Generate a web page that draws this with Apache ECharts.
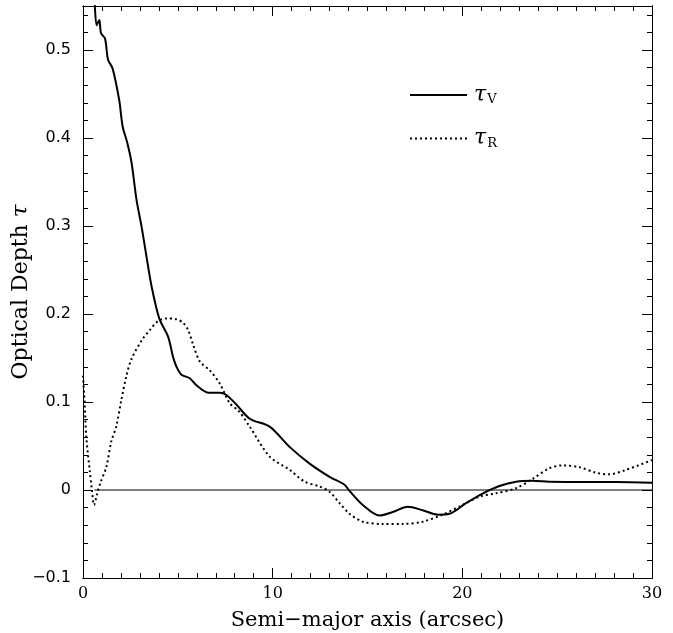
<!DOCTYPE html>
<html><head><meta charset="utf-8">
<script src="https://cdn.jsdelivr.net/npm/echarts@6/dist/echarts.min.js"></script>
<style>html,body{margin:0;padding:0;background:#fff}#c{width:673px;height:633px}</style>
</head><body><div id="c"></div>
<script>
var tauVx = [0.4, 0.6, 0.72, 0.86, 0.95, 1.16, 1.32, 1.56, 1.91, 2.09, 2.33, 2.56, 2.82, 3.09, 3.35, 3.62, 4.02, 4.49, 4.75, 4.93, 5.19, 5.63, 5.98, 6.6, 7.2, 7.56, 8.09, 8.79, 9.84, 10.89, 11.95, 13.0, 13.79, 14.05, 14.75, 15.63, 16.33, 17.12, 17.91, 18.7, 19.32, 20.19, 21.07, 21.95, 22.83, 23.7, 24.58, 26.33, 28.1, 30];
var tauVy = [0.62, 0.56, 0.528, 0.534, 0.519, 0.513, 0.489, 0.479, 0.443, 0.413, 0.395, 0.372, 0.330, 0.299, 0.265, 0.231, 0.195, 0.174, 0.151, 0.140, 0.131, 0.127, 0.119, 0.1106, 0.1106, 0.108, 0.097, 0.081, 0.072, 0.049, 0.030, 0.015, 0.006, -0.001, -0.017, -0.029, -0.025, -0.019, -0.023, -0.028, -0.027, -0.015, -0.004, 0.0045, 0.0095, 0.0106, 0.0095, 0.009, 0.009, 0.0083];
var tauRx = [0, 0.09, 0.17, 0.35, 0.47, 0.58, 0.75, 0.93, 1.23, 1.49, 1.75, 2.02, 2.28, 2.54, 3.09, 3.53, 3.96, 4.4, 4.93, 5.28, 5.54, 5.81, 6.16, 6.68, 7.21, 7.74, 8.2, 8.79, 9.84, 10.89, 11.68, 12.47, 13.0, 13.53, 14.05, 14.75, 15.81, 16.86, 17.91, 18.96, 20.02, 20.89, 21.77, 22.82, 23.7, 24.58, 25.28, 26.16, 27.04, 27.74, 28.6, 30];
var tauRy = [0.13, 0.098, 0.061, 0.023, 0, -0.017, -0.004, 0.009, 0.026, 0.055, 0.072, 0.102, 0.129, 0.148, 0.170, 0.182, 0.192, 0.195, 0.194, 0.190, 0.182, 0.165, 0.146, 0.136, 0.121, 0.0985, 0.09, 0.072, 0.038, 0.023, 0.0095, 0.004, -0.002, -0.015, -0.027, -0.036, -0.0386, -0.0386, -0.036, -0.028, -0.017, -0.0076, -0.0038, 0.002, 0.0125, 0.0246, 0.028, 0.026, 0.0197, 0.0178, 0.0227, 0.034];
var zeroX = [0.6, 30];
var zeroY = [0, 0];
var xTicks = [0, 10, 20, 30];
var yTicks = [-0.1, 0, 0.1, 0.2, 0.3, 0.4, 0.5];

function pairs(xs, ys){ return xs.map(function(x,i){return [x, ys[i]];}); }

var chart = echarts.init(document.getElementById('c'), null, {renderer:'canvas'});
var X0=0, X1=30, Y0=-0.1, Y1=0.55;
var axLine = {show:true, onZero:false, lineStyle:{color:'#000', width:1}};
function xa(pos, major, labels){
  var a = {type:'value', position:pos, min:X0, max:X1, interval: major?10:1,
    axisLine: axLine, splitLine:{show:false},
    axisTick:{show:true, inside:true, length: major?10:5, lineStyle:{color:'#000',width:1}},
    axisLabel:{show:labels, margin:8, color:'#000', fontFamily:'DejaVu Serif', fontSize:16}};
  if (labels){ a.name='Semi\u2212major axis (arcsec)'; a.nameLocation='middle'; a.nameGap=32;
    a.nameTextStyle={color:'#000', fontFamily:'DejaVu Serif', fontSize:21}; }
  return a;
}
function ya(pos, major, labels){
  var a = {type:'value', position:pos, min:Y0, max:Y1, interval: major?0.1:0.02,
    axisLine: axLine, splitLine:{show:false},
    axisTick:{show:true, inside:true, length: major?10:5, lineStyle:{color:'#000',width:1}},
    axisLabel:{show:labels, margin:12, color:'#000', fontFamily:'DejaVu Sans', fontSize:16, showMaxLabel:false,
      formatter:function(v){ var r=Math.round(v*10)/10; if(r===0) return '0'; return (r<0?'\u2212':'')+Math.abs(r).toFixed(1);} }};
  if (labels){ a.name='{a|Optical Depth }{b|\u03C4}'; a.nameLocation='middle'; a.nameGap=50; a.nameRotate=90;
    a.nameMoveOverlap=false;
    a.nameTextStyle={color:'#000', fontFamily:'DejaVu Serif', fontSize:22,
      rich:{a:{fontFamily:'DejaVu Serif', fontSize:22, color:'#000'}, b:{fontFamily:'DejaVu Serif', fontStyle:'italic', fontSize:23, color:'#000'}}}; }
  return a;
}
chart.setOption({
  animation:false,
  backgroundColor:'#fff',
  grid:{left:83, right:21, top:6, bottom:55, containLabel:false, outerBoundsMode:'none'},
  xAxis:[xa('bottom',true,true), xa('bottom',false,false), xa('top',true,false), xa('top',false,false)],
  yAxis:[ya('left',true,true), ya('left',false,false), ya('right',true,false), ya('right',false,false)],
  legend:{orient:'vertical', left:404, top:79, itemWidth:57, itemHeight:14, itemGap:21,
    data:['V','R'],
    itemStyle:{opacity:0},
    formatter:function(n){ return '{t|\u03C4}{s|'+n+'}'; },
    textStyle:{rich:{
      t:{fontFamily:'DejaVu Serif', fontStyle:'italic', fontSize:22, color:'#000', padding:[0,0,0,2]},
      s:{fontFamily:'DejaVu Serif', fontSize:13, color:'#000', verticalAlign:'bottom', padding:[10,0,0,1]}
    }}},
  series:[
    {name:'V', type:'line', data:pairs(tauVx,tauVy), symbol:'none', smooth:0.3, clip:true,
      lineStyle:{color:'#000', width:2}, itemStyle:{color:'#000'}},
    {name:'R', type:'line', data:pairs(tauRx,tauRy), symbol:'none', smooth:0.3, clip:true,
      lineStyle:{color:'#000', width:2, type:[2,3]}, itemStyle:{color:'#000'}},
    {name:'zero', type:'line', data:pairs(zeroX,zeroY), symbol:'none',
      lineStyle:{color:'#000', width:1}, silent:true}
  ]
});
</script></body></html>
